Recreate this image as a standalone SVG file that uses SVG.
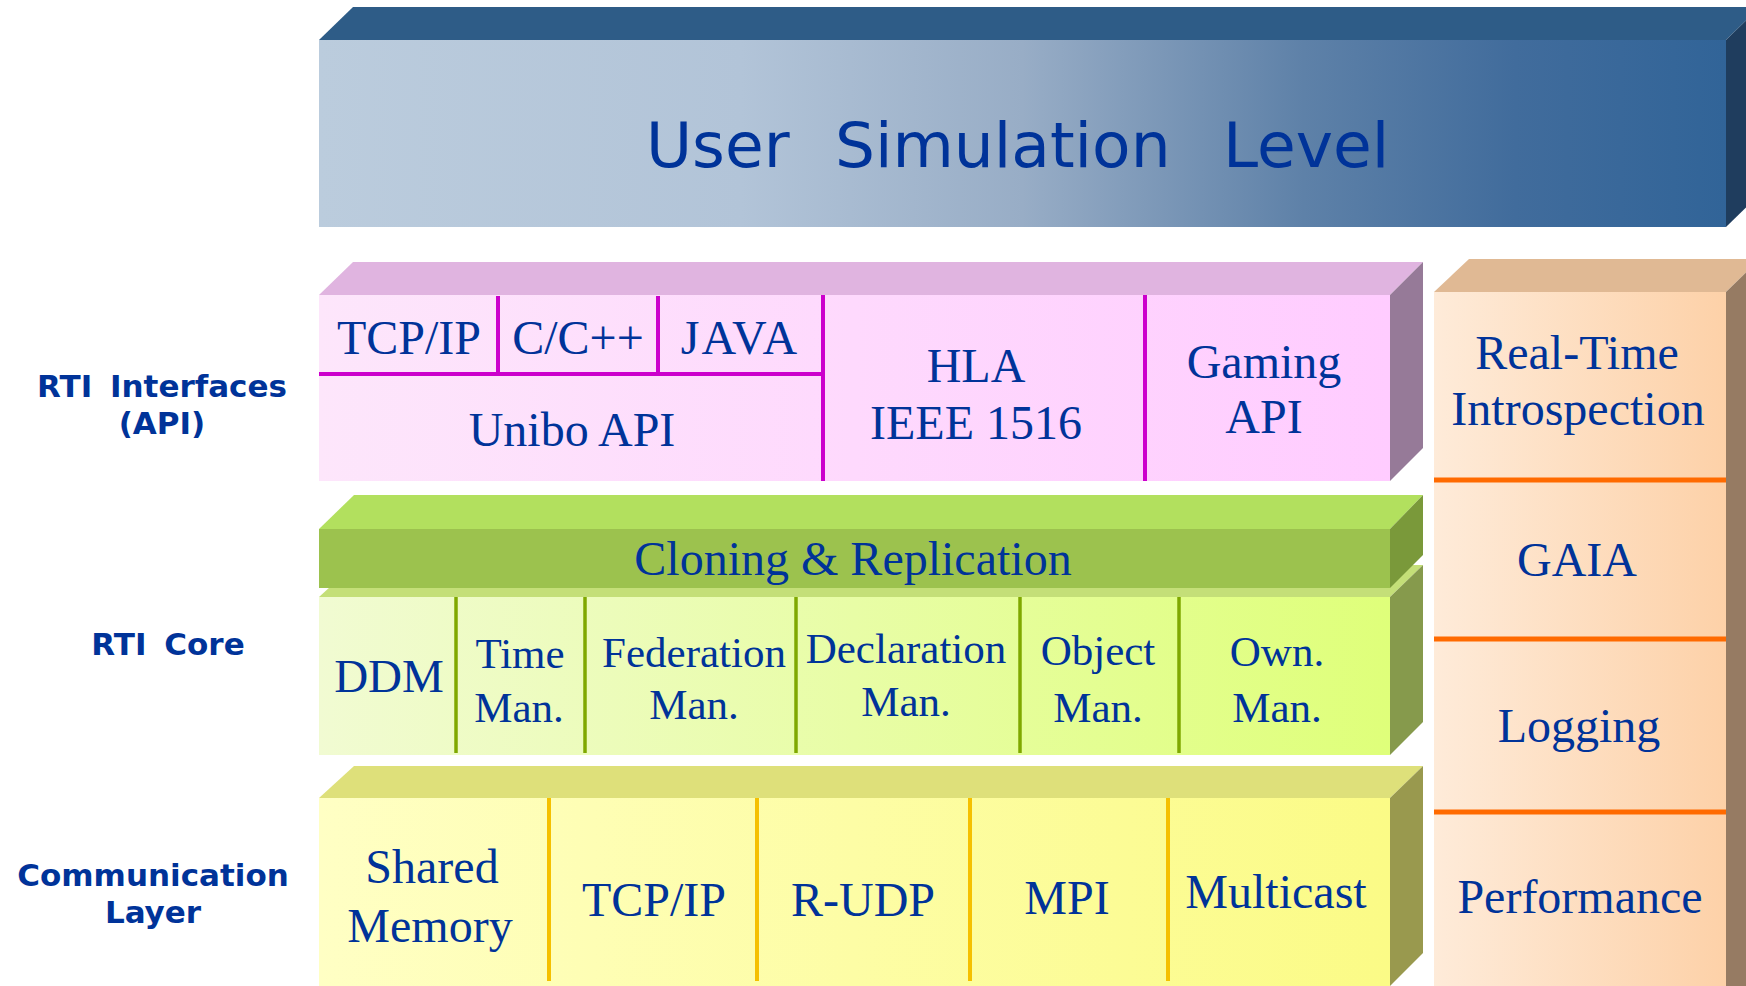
<svg xmlns="http://www.w3.org/2000/svg" width="1746" height="986" viewBox="0 0 1746 986">
<defs>
  <linearGradient id="gUser" x1="0" y1="0" x2="1" y2="0">
    <stop offset="0" stop-color="#BBCCDD"/>
    <stop offset="0.3" stop-color="#B2C4D8"/>
    <stop offset="0.5" stop-color="#98ADC6"/>
    <stop offset="0.7" stop-color="#5E81A8"/>
    <stop offset="0.85" stop-color="#416C9C"/>
    <stop offset="1" stop-color="#316498"/>
  </linearGradient>
  <linearGradient id="gApi" x1="0" y1="0" x2="1" y2="0">
    <stop offset="0" stop-color="#FDE6FB"/>
    <stop offset="1" stop-color="#FFCCFF"/>
  </linearGradient>
  <linearGradient id="gCore" x1="0" y1="0" x2="1" y2="0">
    <stop offset="0" stop-color="#F1FBD2"/>
    <stop offset="1" stop-color="#DFFF7A"/>
  </linearGradient>
  <linearGradient id="gComm" x1="0" y1="0" x2="1" y2="0">
    <stop offset="0" stop-color="#FFFFC4"/>
    <stop offset="1" stop-color="#FBFB86"/>
  </linearGradient>
  <linearGradient id="gTools" x1="0" y1="0" x2="1" y2="0">
    <stop offset="0" stop-color="#FEEBD9"/>
    <stop offset="1" stop-color="#FDD1A8"/>
  </linearGradient>
</defs>
<style>
  .t{font-family:"Liberation Serif","Times New Roman",serif;fill:#003399;text-anchor:middle;font-size:48px}
  .c{font-size:43px}
  .lbl{font-family:"DejaVu Sans",Verdana,sans-serif;font-weight:bold;font-size:31px;fill:#003399;text-anchor:middle;word-spacing:7px}
  .big{font-family:"DejaVu Sans",Verdana,sans-serif;font-size:63px;fill:#003399}
  .mag{stroke:#CC00CC;stroke-width:4}
  .grn{stroke:#7FA800;stroke-width:3.5}
  .gold{stroke:#F5C000;stroke-width:4}
  .org{stroke:#FF6A00;stroke-width:5}
</style>
<rect width="1746" height="986" fill="#FFFFFF"/>

<g id="labels">
  <text class="lbl" x="162" y="397">RTI Interfaces</text>
  <text class="lbl" x="162" y="434">(API)</text>
  <text class="lbl" x="168" y="655">RTI Core</text>
  <text class="lbl" x="153" y="886">Communication</text>
  <text class="lbl" x="153" y="923">Layer</text>
</g>

<g id="user-simulation-level">
  <polygon points="319,40 353,7 1760,7 1726,40" fill="#2E5C87"/>
  <rect x="319" y="40" width="1407" height="187" fill="url(#gUser)"/>
  <polygon points="1726,40 1760,7 1760,194 1726,227" fill="#1F3D5E"/>
  <text class="big" y="167"><tspan x="646">User</tspan><tspan x="835">Simulation</tspan><tspan x="1223">Level</tspan></text>
</g>

<g id="rti-interfaces">
  <polygon points="319,295 353,262 1423,262 1390,295" fill="#E0B4E0"/>
  <rect x="319" y="295" width="1071" height="186" fill="url(#gApi)"/>
  <polygon points="1390,295 1423,262 1423,448 1390,481" fill="#967A98"/>
  <line class="mag" x1="319" y1="374" x2="823" y2="374"/>
  <line class="mag" x1="498" y1="296" x2="498" y2="374"/>
  <line class="mag" x1="658" y1="296" x2="658" y2="374"/>
  <line class="mag" x1="823" y1="295" x2="823" y2="481"/>
  <line class="mag" x1="1145" y1="295" x2="1145" y2="481"/>
  <g id="api-tcpip"><text class="t" x="409" y="354">TCP/IP</text></g>
  <g id="api-cpp"><text class="t" x="578" y="354">C/C++</text></g>
  <g id="api-java"><text class="t" x="740" y="354" style="letter-spacing:2px">JAVA</text></g>
  <g id="api-unibo"><text class="t" x="572" y="446">Unibo API</text></g>
  <g id="api-hla"><text class="t" x="976" y="382">HLA</text><text class="t" x="976" y="439">IEEE 1516</text></g>
  <g id="api-gaming"><text class="t" x="1264" y="378">Gaming</text><text class="t" x="1264" y="433">API</text></g>
</g>

<g id="rti-core">
  <polygon points="319,597 354,565 1423,565 1390,597" fill="#C4DF78"/>
  <rect x="319" y="597" width="1071" height="158" fill="url(#gCore)"/>
  <polygon points="1390,597 1423,565 1423,722 1390,755" fill="#869A4C"/>
  <line class="grn" x1="456" y1="597" x2="456" y2="753"/>
  <line class="grn" x1="585" y1="597" x2="585" y2="753"/>
  <line class="grn" x1="796" y1="597" x2="796" y2="753"/>
  <line class="grn" x1="1020" y1="597" x2="1020" y2="753"/>
  <line class="grn" x1="1179" y1="597" x2="1179" y2="753"/>
  <g id="core-ddm"><text class="t" x="389" y="692" style="font-size:47px">DDM</text></g>
  <g id="core-time"><text class="t c" x="520" y="668">Time</text><text class="t c" x="519" y="722">Man.</text></g>
  <g id="core-federation"><text class="t c" x="694" y="667">Federation</text><text class="t c" x="694" y="719">Man.</text></g>
  <g id="core-declaration"><text class="t c" x="906" y="663">Declaration</text><text class="t c" x="906" y="716">Man.</text></g>
  <g id="core-object"><text class="t c" x="1098" y="665">Object</text><text class="t c" x="1098" y="722">Man.</text></g>
  <g id="core-own"><text class="t c" x="1277" y="666">Own.</text><text class="t c" x="1277" y="722">Man.</text></g>
</g>

<g id="cloning-replication">
  <polygon points="319,529 354,495 1423,495 1390,529" fill="#B2E05E"/>
  <rect x="319" y="529" width="1071" height="59" fill="#9CC24E"/>
  <polygon points="1390,529 1423,495 1423,555 1390,588" fill="#7A993A"/>
  <text class="t" x="853" y="575">Cloning &amp; Replication</text>
</g>

<g id="communication-layer">
  <polygon points="319,798 354,766 1423,766 1390,798" fill="#DEE07A"/>
  <rect x="319" y="798" width="1071" height="188" fill="url(#gComm)"/>
  <polygon points="1390,798 1423,766 1423,953 1390,986" fill="#99994E"/>
  <line class="gold" x1="549" y1="798" x2="549" y2="981"/>
  <line class="gold" x1="757" y1="798" x2="757" y2="981"/>
  <line class="gold" x1="970" y1="798" x2="970" y2="981"/>
  <line class="gold" x1="1168" y1="798" x2="1168" y2="981"/>
  <g id="comm-shm"><text class="t" x="432" y="883">Shared</text><text class="t" x="430" y="942">Memory</text></g>
  <g id="comm-tcpip"><text class="t" x="654" y="916">TCP/IP</text></g>
  <g id="comm-rudp"><text class="t" x="863" y="916">R-UDP</text></g>
  <g id="comm-mpi"><text class="t" x="1067" y="914">MPI</text></g>
  <g id="comm-multicast"><text class="t" x="1276" y="908">Multicast</text></g>
</g>

<g id="tools">
  <polygon points="1434,292 1469,259 1760,259 1726,292" fill="#E0B994"/>
  <rect x="1434" y="292" width="292" height="694" fill="url(#gTools)"/>
  <polygon points="1726,292 1760,259 1760,986 1726,986" fill="#967B63"/>
  <line class="org" x1="1434" y1="480" x2="1726" y2="480"/>
  <line class="org" x1="1434" y1="639" x2="1726" y2="639"/>
  <line class="org" x1="1434" y1="812" x2="1726" y2="812"/>
  <g id="tool-introspection"><text class="t" x="1577" y="369">Real-Time</text><text class="t" x="1578" y="425">Introspection</text></g>
  <g id="tool-gaia"><text class="t" x="1577" y="576">GAIA</text></g>
  <g id="tool-logging"><text class="t" x="1579" y="742">Logging</text></g>
  <g id="tool-performance"><text class="t" x="1580" y="913">Performance</text></g>
</g>
</svg>
